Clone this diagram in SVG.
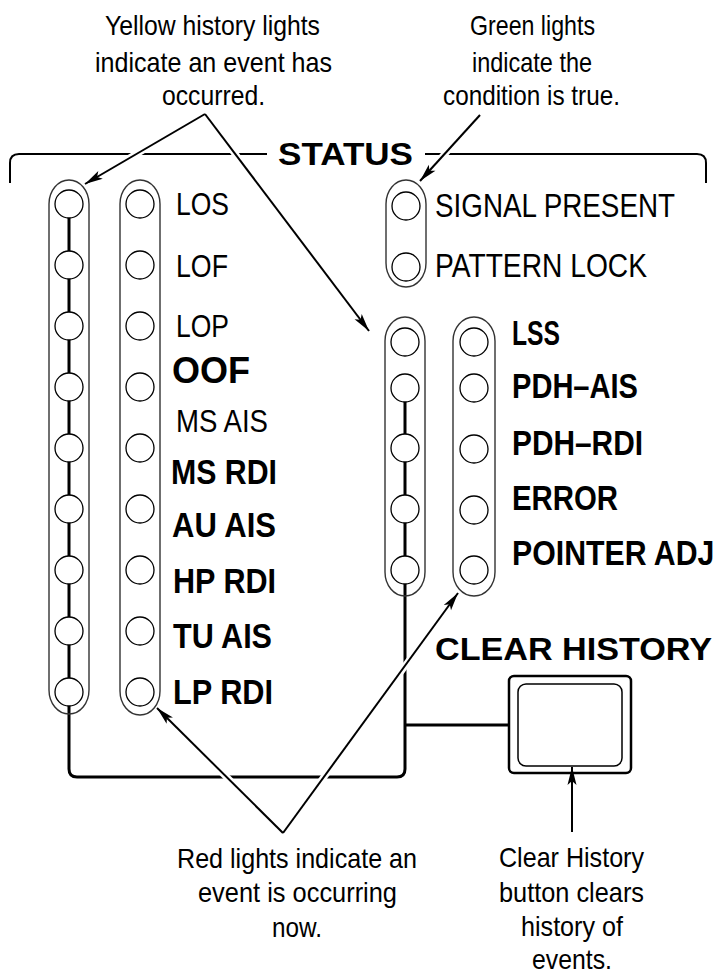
<svg xmlns="http://www.w3.org/2000/svg" width="720" height="975" viewBox="0 0 720 975">
<style>
text{font-family:"Liberation Sans",Arial,sans-serif;fill:#000}
.n{font-size:28.5px}
.r{font-size:31px}
.b{font-size:35px;font-weight:bold}
.pill{fill:none;stroke:#333;stroke-width:1.4}
.lamp{fill:#fff;stroke:#000;stroke-width:1.3}
.wire{fill:none;stroke:#000;stroke-width:3}
.brk{fill:none;stroke:#000;stroke-width:2}
.halo{stroke:#fff;stroke-width:7;fill:none}
.arr{stroke:#000;stroke-width:2;fill:none;marker-end:url(#ah)}
</style>
<defs>
<marker id="ah" markerUnits="userSpaceOnUse" markerWidth="20" markerHeight="12" refX="18" refY="5" orient="auto" overflow="visible">
<path d="M0,0.5 L18,5 L0,9.5 L4,5 Z" fill="#000"/>
</marker>
</defs>
<rect width="720" height="975" fill="#fff"/>

<g id="status-frame">
<path class="brk" d="M10,183 V163 Q10,154 19,154 H267"/>
<path class="brk" d="M425,154 H697 Q706,154 706,163 V183"/>
<text class="b" x="278" y="165" textLength="135" lengthAdjust="spacingAndGlyphs" style="font-size:32px">STATUS</text>
</g>

<g id="wiring">
<path class="wire" d="M69,204 V769 Q69,777 77,777 H397 Q405,777 405,769 V388"/>
<path class="wire" d="M405,725 H509"/>
</g>

<g id="history-left">
<rect class="pill" x="49" y="180" width="40" height="534" rx="20" ry="24"/>
<circle class="lamp" cx="69" cy="204" r="14"/>
<circle class="lamp" cx="69" cy="265" r="14"/>
<circle class="lamp" cx="69" cy="326" r="14"/>
<circle class="lamp" cx="69" cy="387" r="14"/>
<circle class="lamp" cx="69" cy="448" r="14"/>
<circle class="lamp" cx="69" cy="509" r="14"/>
<circle class="lamp" cx="69" cy="570" r="14"/>
<circle class="lamp" cx="69" cy="631" r="14"/>
<circle class="lamp" cx="69" cy="692" r="14"/>
</g>

<g id="current-left">
<rect class="pill" x="120" y="180" width="40" height="535" rx="20" ry="24"/>
<circle class="lamp" cx="140" cy="204" r="14"/>
<circle class="lamp" cx="140" cy="265" r="14"/>
<circle class="lamp" cx="140" cy="326" r="14"/>
<circle class="lamp" cx="140" cy="387" r="14"/>
<circle class="lamp" cx="140" cy="448" r="14"/>
<circle class="lamp" cx="140" cy="509" r="14"/>
<circle class="lamp" cx="140" cy="570" r="14"/>
<circle class="lamp" cx="140" cy="631" r="14"/>
<circle class="lamp" cx="140" cy="692" r="14"/>
<text class="r" x="176" y="215" textLength="53" lengthAdjust="spacingAndGlyphs">LOS</text>
<text class="r" x="176" y="277" textLength="52" lengthAdjust="spacingAndGlyphs">LOF</text>
<text class="r" x="176" y="337" textLength="53" lengthAdjust="spacingAndGlyphs">LOP</text>
<text class="b" x="172" y="383" style="font-size:36px" textLength="78" lengthAdjust="spacingAndGlyphs">OOF</text>
<text class="r" x="176" y="432" textLength="92" lengthAdjust="spacingAndGlyphs">MS AIS</text>
<text class="b" x="171" y="484" textLength="106" lengthAdjust="spacingAndGlyphs">MS RDI</text>
<text class="b" x="172" y="537" textLength="104" lengthAdjust="spacingAndGlyphs">AU AIS</text>
<text class="b" x="173" y="593" textLength="103" lengthAdjust="spacingAndGlyphs">HP RDI</text>
<text class="b" x="173" y="648" textLength="99" lengthAdjust="spacingAndGlyphs">TU AIS</text>
<text class="b" x="173" y="704" textLength="100" lengthAdjust="spacingAndGlyphs">LP RDI</text>
</g>

<g id="condition">
<rect class="pill" x="386" y="180" width="40" height="107" rx="20" ry="24"/>
<circle class="lamp" cx="406" cy="206" r="14"/>
<circle class="lamp" cx="406" cy="267" r="14"/>
<text class="r" x="435" y="217" style="font-size:33px" textLength="240" lengthAdjust="spacingAndGlyphs">SIGNAL PRESENT</text>
<text class="r" x="435" y="277" style="font-size:33px" textLength="212" lengthAdjust="spacingAndGlyphs">PATTERN LOCK</text>
</g>

<g id="history-right">
<rect class="pill" x="385" y="317" width="40" height="279" rx="20" ry="24"/>
<circle class="lamp" cx="405" cy="342" r="14"/>
<circle class="lamp" cx="405" cy="388" r="14"/>
<circle class="lamp" cx="405" cy="448" r="14"/>
<circle class="lamp" cx="405" cy="509" r="14"/>
<circle class="lamp" cx="405" cy="570" r="14"/>
</g>

<g id="current-right">
<rect class="pill" x="453" y="317" width="42" height="279" rx="21" ry="24"/>
<circle class="lamp" cx="474" cy="342" r="14"/>
<circle class="lamp" cx="474" cy="388" r="14"/>
<circle class="lamp" cx="474" cy="449" r="14"/>
<circle class="lamp" cx="474" cy="510" r="14"/>
<circle class="lamp" cx="474" cy="570" r="14"/>
<text class="b" x="512" y="345" textLength="48" lengthAdjust="spacingAndGlyphs">LSS</text>
<text class="b" x="512" y="398" textLength="126" lengthAdjust="spacingAndGlyphs">PDH–AIS</text>
<text class="b" x="512" y="455" textLength="131" lengthAdjust="spacingAndGlyphs">PDH–RDI</text>
<text class="b" x="512" y="510" textLength="106" lengthAdjust="spacingAndGlyphs">ERROR</text>
<text class="b" transform="translate(512,565) scale(0.865,1)" x="0" y="0">POINTER ADJ</text>
</g>

<g id="clear-history">
<text class="b" x="435" y="660" style="font-size:32px" textLength="277" lengthAdjust="spacingAndGlyphs">CLEAR HISTORY</text>
<rect x="509" y="676" width="122" height="97" rx="5" fill="#fff" stroke="#000" stroke-width="2.5"/>
<rect x="518" y="684" width="104" height="82" rx="8" fill="none" stroke="#000" stroke-width="1.5"/>
</g>

<g id="connectors">
<path class="halo" d="M205,114 L102,174"/>
<path class="halo" d="M205,114 L355,313"/>
<path class="halo" d="M480,115 L433,167"/>
<path class="halo" d="M283,833 L172,723"/>
<path class="halo" d="M283,833 L446,610"/>
<path class="arr" d="M205,114 L85,184"/>
<path class="arr" d="M205,114 L369,331"/>
<path class="arr" d="M480,115 L420,181"/>
<path class="arr" d="M283,833 L157,708"/>
<path class="arr" d="M283,833 L458,593"/>
<path class="arr" d="M572,832 L572,767"/>
</g>

<g id="notes">
<text class="n" x="212.5" y="35" text-anchor="middle" textLength="215" lengthAdjust="spacingAndGlyphs">Yellow history lights</text>
<text class="n" x="213.5" y="72" text-anchor="middle" textLength="237" lengthAdjust="spacingAndGlyphs">indicate an event has</text>
<text class="n" x="213.5" y="105" text-anchor="middle" textLength="103" lengthAdjust="spacingAndGlyphs">occurred.</text>
<text class="n" x="532.5" y="35" text-anchor="middle" textLength="125" lengthAdjust="spacingAndGlyphs">Green lights</text>
<text class="n" x="532" y="72" text-anchor="middle" textLength="120" lengthAdjust="spacingAndGlyphs">indicate the</text>
<text class="n" x="531.5" y="105" text-anchor="middle" textLength="177" lengthAdjust="spacingAndGlyphs">condition is true.</text>
<text class="n" x="297" y="868" text-anchor="middle" textLength="240" lengthAdjust="spacingAndGlyphs">Red lights indicate an</text>
<text class="n" x="297.5" y="902" text-anchor="middle" textLength="199" lengthAdjust="spacingAndGlyphs">event is occurring</text>
<text class="n" x="297" y="937" text-anchor="middle" textLength="50" lengthAdjust="spacingAndGlyphs">now.</text>
<text class="n" x="571.5" y="867" text-anchor="middle" textLength="145" lengthAdjust="spacingAndGlyphs">Clear History</text>
<text class="n" x="571.5" y="902" text-anchor="middle" textLength="145" lengthAdjust="spacingAndGlyphs">button clears</text>
<text class="n" x="572" y="936" text-anchor="middle" textLength="102" lengthAdjust="spacingAndGlyphs">history of</text>
<text class="n" x="572" y="969" text-anchor="middle" textLength="80" lengthAdjust="spacingAndGlyphs">events.</text>
</g>
</svg>
